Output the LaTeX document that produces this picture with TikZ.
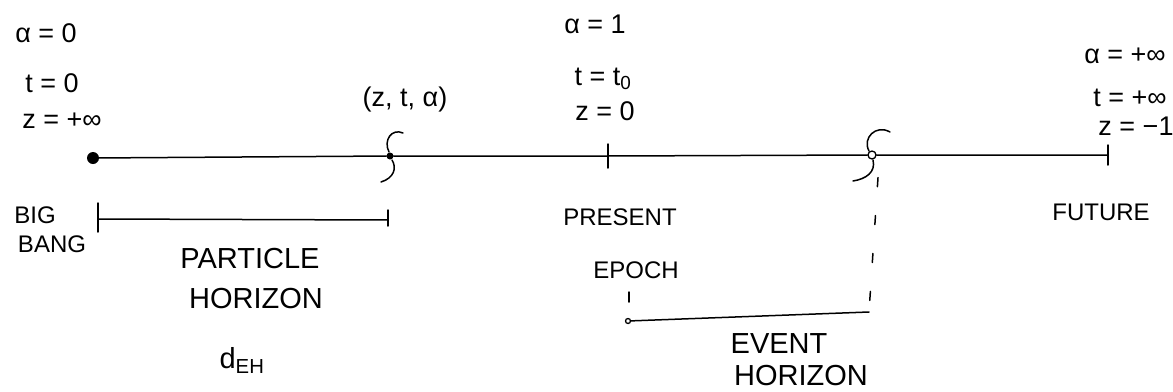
\documentclass[tikz,border=0pt]{standalone}
\usepackage{fontspec}
\setmainfont{Liberation Sans}
\tikzset{
  pen/.style={line width=1.5pt, line cap=round, line join=round},
  lbl/.style={inner sep=0pt, anchor=base, font=\fontsize{24}{28}\selectfont},
  eqn/.style={inner sep=0pt, anchor=base, font=\fontsize{27}{31}\selectfont},
  big/.style={inner sep=0pt, anchor=base, font=\fontsize{29}{33}\selectfont},
}
\begin{document}
\begin{tikzpicture}[x=1pt,y=-1pt]
\fill[white] (0,0) rectangle (1173,391);
\useasboundingbox (0,0) rectangle (1173,391);

% main time line points
\node[circle, fill=black, inner sep=0pt, minimum size=12pt] (bb) at (93,158) {};
\node[circle, fill=black, inner sep=0pt, minimum size=7pt] (p) at (390,156) {};
\coordinate (now) at (608,156);
\node[circle, draw=black, line width=1.3pt, inner sep=0pt, minimum size=8pt] (ev) at (872,155) {};
\coordinate (fut) at (1108,155);

\draw[pen] (bb.center) -- (p) -- (now) -- (ev) -- (fut);
\draw[pen] (608,144) -- (608,168);
\draw[pen] (1108,145) -- (1108,165);

% S-marks
\draw[pen] (403,133) .. controls (392,128) and (383,140) .. (389,152);
\draw[pen] (392,160) .. controls (397,168) and (394,178) .. (381,182);
\draw[pen] (890,132) .. controls (876,124) and (862,138) .. (869,151);
\draw[pen] (873,160) .. controls (876,172) and (866,179) .. (853,181);

% top labels
\node[eqn] (a0) at (46,42) {α = 0};
\node[eqn] (t0) at (52,92) {t = 0};
\node[eqn] (z0) at (62,128) {z = +∞};
\node[eqn] (zta) at (405,106) {(z, t, α)};
\node[eqn] (a1) at (595,33) {α = 1};
\node[eqn] (t1) at (603,85) {t = t\textsubscript{0}};
\node[eqn] (z1) at (605,120) {z = 0};
\node[eqn] (ai) at (1125,63) {α = +∞};
\node[eqn] (ti) at (1130,106) {t = +∞};
\node[eqn] (zi) at (1136,135) {z = −1};

% particle horizon
\coordinate (ph1) at (98,219);
\coordinate (ph2) at (388,220);
\draw[pen] (ph1) -- (ph2);
\draw[pen] (98,203) -- (98,232);
\draw[pen] (388,210) -- (388,226);

\node[lbl] (big) at (35,223) {BIG};
\node[lbl] (bang) at (52,252) {BANG};
\node[big] (part) at (250,268) {PARTICLE};
\node[big] (hor1) at (256,308) {HORIZON};
\node[big] (deh) at (242,368) {d\textsubscript{EH}};

\node[lbl] (pres) at (620,225) {PRESENT};
\node[lbl] (epoch) at (636,278) {EPOCH};
\node[lbl] (future) at (1101,220) {FUTURE};

% event horizon
\draw[pen] (629,292) -- (629,302);
\node[circle, draw=black, line width=1.3pt, inner sep=0pt, minimum size=5pt] (eh1) at (628,321) {};
\coordinate (eh2) at (869,312);
\draw[pen] (eh1) -- (eh2);
\draw[pen, dash pattern=on 9pt off 29pt] (ev.south) ++(6,18) -- (eh2);

\node[big] (event) at (779,353) {EVENT};
\node[big] (hor2) at (801,385) {HORIZON};
\end{tikzpicture}
\end{document}
